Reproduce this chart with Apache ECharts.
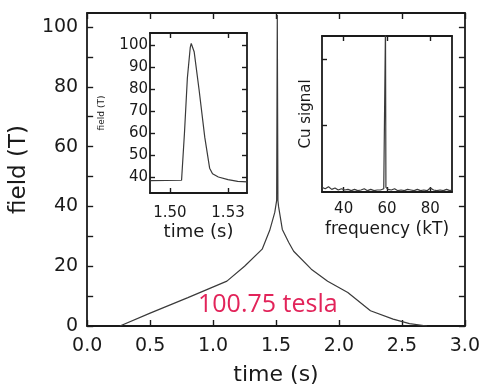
<!DOCTYPE html>
<html>
<head>
<meta charset="utf-8">
<script src="https://cdn.jsdelivr.net/npm/echarts@6/dist/echarts.min.js"></script>
<style>
  html, body { margin: 0; padding: 0; background: #fff; }
  #chart { width: 483px; height: 391px; }
</style>
</head>
<body>
<div id="chart"></div>
<script>
// main pulse: field (T) vs time (s)
var mainTime  = [0.26, 0.5, 0.8, 1.11, 1.25, 1.39, 1.45, 1.49, 1.505, 1.51, 1.515, 1.52, 1.55, 1.6, 1.64, 1.78, 1.91, 2.07, 2.25, 2.43, 2.56, 2.7];
var mainField = [0, 4.3, 9.5, 15, 20, 25.7, 32, 38, 42, 104, 42, 40, 32.3, 28, 25, 19, 15, 11.2, 5.1, 2.3, 0.8, 0];
var mainXTicks = [0, 0.5, 1, 1.5, 2, 2.5, 3];
var mainYLabels = [0, 20, 40, 60, 80, 100];
var mainYTicks = [0, 10, 20, 30, 40, 50, 60, 70, 80, 90, 100];

// inset 1: zoom on the peak
var peakTime  = [1.49, 1.506, 1.5075, 1.509, 1.5105, 1.511, 1.5125, 1.515, 1.518, 1.5205, 1.522, 1.525, 1.53, 1.535, 1.54];
var peakField = [38.3, 38.5, 60, 85, 99, 100.75, 97, 80, 58, 44, 41.5, 40, 38.8, 38, 37.8];
var peakXTicks = [1.50, 1.53];
var peakYTicks = [40, 50, 60, 70, 80, 90, 100];

// inset 2: Cu NMR spectrum
var freqKT = [30, 31.5, 33, 34.5, 36, 37.5, 39, 40.5, 42, 43.5, 45, 46.5, 48, 49.5, 51, 52.5, 54, 55.5, 57, 58.5,
  59.1, 59.3, 59.5, 60.5, 62, 63.5, 65, 66.5, 68, 69.5, 71, 72.5, 74, 75.5, 77, 78.5, 80, 81.5, 83, 84.5, 86, 87.5, 89, 90];
var cuSignal = [0.07, 0.05, 0.08, 0.04, 0.06, 0.03, 0.05, 0.03, 0.04, 0.02, 0.04, 0.02, 0.03, 0.05, 0.02, 0.04, 0.02, 0.03, 0.03, 0.05,
  0.08, 2.5, 0.07, 0.04, 0.03, 0.05, 0.02, 0.03, 0.02, 0.04, 0.03, 0.02, 0.04, 0.02, 0.03, 0.02, 0.06, 0.03, 0.02, 0.03, 0.02, 0.04, 0.02, 0.03];
var freqTicks = [40, 60, 80];
var cuTicks = [1, 2];

var FONT = 'DejaVu Sans';
var INK = '#1a1a1a';

function zip(a, b) {
  return a.map(function (v, i) { return [v, b[i]]; });
}

// one axis with inward ticks; labels optional
function ax(opt) {
  var o = {
    type: 'value',
    gridIndex: opt.grid,
    position: opt.pos,
    min: opt.min,
    max: opt.max,
    splitLine: { show: false },
    axisLine: { show: true, onZero: false, lineStyle: { color: INK, width: 1.8 } },
    axisTick: {
      show: true, inside: true, length: opt.tickLen || 6,
      customValues: opt.ticks,
      lineStyle: { color: INK, width: 1.4 }
    },
    axisLabel: { show: false },
    name: opt.name || '',
    nameLocation: 'middle',
    nameGap: opt.nameGap || 0,
    nameTextStyle: { fontFamily: FONT, fontSize: opt.nameSize || 12, color: INK }
  };
  if (opt.labels) {
    o.axisLabel = {
      show: true,
      customValues: opt.labels,
      margin: opt.margin,
      fontFamily: FONT,
      fontSize: opt.labelSize,
      color: INK,
      formatter: opt.fmt
    };
  }
  return o;
}

var chart = echarts.init(document.getElementById('chart'));

var option = {
  backgroundColor: '#fff',
  animation: false,
  grid: [
    { left: 81, top: 13, width: 385, height: 314 },
    { left: 150, top: 33, width: 97, height: 160 },
    { left: 322, top: 36, width: 130, height: 156 }
  ],
  xAxis: [
    ax({ grid: 0, pos: 'bottom', min: 0, max: 3, ticks: mainXTicks, labels: mainXTicks, margin: 11, labelSize: 19,
         fmt: function (v) { return v.toFixed(1); }, name: 'time (s)', nameGap: 38, nameSize: 22 }),
    ax({ grid: 0, pos: 'top', min: 0, max: 3, ticks: mainXTicks }),
    ax({ grid: 1, pos: 'bottom', min: 1.4897, max: 1.5398, ticks: peakXTicks, tickLen: 5, labels: peakXTicks, margin: 13, labelSize: 15,
         fmt: function (v) { return v.toFixed(2); }, name: 'time (s)', nameGap: 30, nameSize: 18 }),
    ax({ grid: 1, pos: 'top', min: 1.4897, max: 1.5398, ticks: peakXTicks, tickLen: 5 }),
    ax({ grid: 2, pos: 'bottom', min: 30, max: 90, ticks: freqTicks, tickLen: 5, labels: freqTicks, margin: 10, labelSize: 15,
         name: 'frequency (kT)', nameGap: 29, nameSize: 17 }),
    ax({ grid: 2, pos: 'top', min: 30, max: 90, ticks: freqTicks, tickLen: 5 })
  ],
  yAxis: [
    ax({ grid: 0, pos: 'left', min: 0, max: 104.7, ticks: mainYTicks, labels: mainYLabels, margin: 9, labelSize: 19,
         name: 'field (T)', nameGap: 32, nameSize: 23 }),
    ax({ grid: 0, pos: 'right', min: 0, max: 104.7, ticks: mainYTicks }),
    ax({ grid: 1, pos: 'left', min: 32.7, max: 105.5, ticks: peakYTicks, tickLen: 5, labels: peakYTicks, margin: 2, labelSize: 15,
         name: 'field (T)', nameGap: 44, nameSize: 9 }),
    ax({ grid: 1, pos: 'right', min: 32.7, max: 105.5, ticks: peakYTicks, tickLen: 5 }),
    ax({ grid: 2, pos: 'left', min: 0, max: 2.35, ticks: cuTicks, tickLen: 5,
         name: 'Cu signal', nameGap: 8, nameSize: 15 }),
    ax({ grid: 2, pos: 'right', min: 0, max: 2.35, ticks: [] })
  ],
  series: [
    {
      type: 'line', xAxisIndex: 0, yAxisIndex: 0, symbol: 'none',
      lineStyle: { color: '#3a3a3a', width: 1.2 },
      data: zip(mainTime, mainField)
    },
    {
      type: 'line', xAxisIndex: 2, yAxisIndex: 2, symbol: 'none',
      lineStyle: { color: '#3a3a3a', width: 1.2 },
      data: zip(peakTime, peakField)
    },
    {
      type: 'line', xAxisIndex: 4, yAxisIndex: 4, symbol: 'none', clip: true,
      lineStyle: { color: '#3a3a3a', width: 1.2 },
      data: zip(freqKT, cuSignal)
    }
  ],
  graphic: [
    {
      type: 'text', left: 198, top: 292,
      style: { text: '100.75 tesla', fontFamily: 'Open Sans', fontSize: 25, fill: '#e2245a' }
    }
  ]
};

chart.setOption(option);
</script>
</body>
</html>
